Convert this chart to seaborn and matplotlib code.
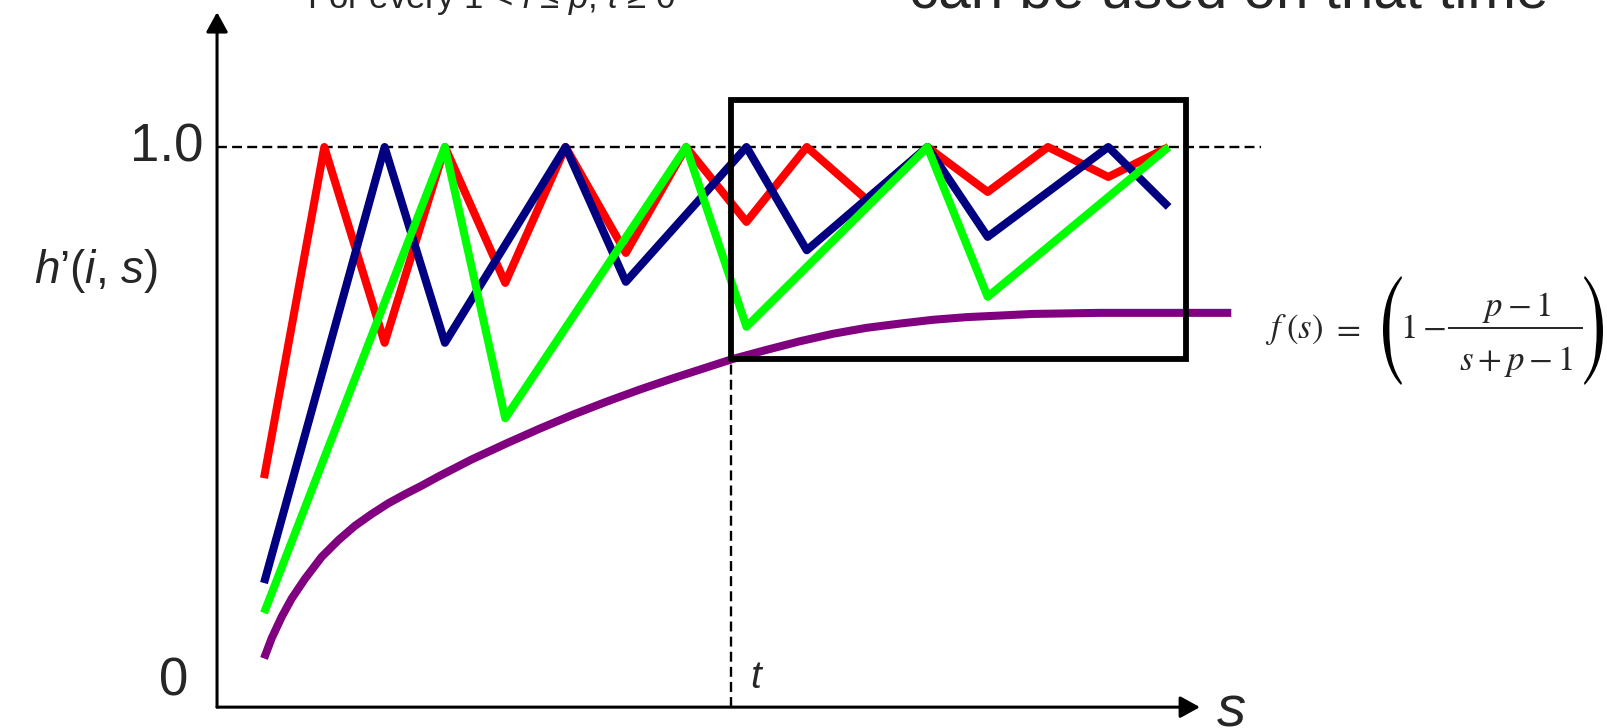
import numpy as np
import pandas as pd
import matplotlib
matplotlib.use("Agg")
import matplotlib.pyplot as plt
import seaborn as sns
from matplotlib.textpath import TextPath
from matplotlib.patches import PathPatch
from matplotlib.font_manager import FontProperties
from matplotlib.transforms import Affine2D

# Normalised heuristic values h'(i, s) for three processors, sampled per step s
red_s = [0, 1, 2, 3, 4, 5, 6, 7, 8, 9, 10, 11, 12, 13, 14, 15]
red_h = [0.381, 1.0, 0.634, 1.0, 0.746, 1.0, 0.802, 1.0, 0.860, 1.0, 0.901, 1.0, 0.916, 1.0, 0.944, 1.0]

blue_s = [0, 2, 3, 5, 6, 8, 9, 11, 12, 14, 15]
blue_h = [0.185, 1.0, 0.634, 1.0, 0.748, 1.0, 0.807, 1.0, 0.832, 1.0, 0.888]

green_s = [0, 3, 4, 7, 8, 11, 12, 15]
green_h = [0.129, 1.0, 0.493, 1.0, 0.664, 1.0, 0.720, 1.0]

# Lower bound curve f(s)
bound_s = [0.0, 0.128, 0.294, 0.459, 0.680, 0.957, 1.232, 1.509, 1.786, 2.061,
           2.338, 2.615, 2.891, 3.168, 3.444, 3.83, 4.02, 4.58, 5.13, 5.68,
           6.24, 6.79, 7.34, 7.78, 8.34, 8.89, 9.44, 9.99, 10.55, 11.09,
           11.65, 12.21, 12.75, 13.31, 13.86, 16.04]
bound_h = [0.044, 0.082, 0.122, 0.156, 0.193, 0.234, 0.265, 0.292, 0.314, 0.334,
           0.351, 0.367, 0.384, 0.400, 0.416, 0.436, 0.446, 0.474, 0.500, 0.524,
           0.547, 0.568, 0.588, 0.604, 0.621, 0.637, 0.651, 0.662, 0.670, 0.677,
           0.682, 0.685, 0.688, 0.689, 0.690, 0.690]

y_ticks = [0.0, 1.0]
y_tick_labels = ["0", "1.0"]
t_mark = 7.745

sns.set_theme(style="white")
plt.rcParams["font.family"] = ["Liberation Sans", "DejaVu Sans"]
plt.rcParams["mathtext.fontset"] = "custom"
plt.rcParams["mathtext.rm"] = "Liberation Sans"
plt.rcParams["mathtext.it"] = "Liberation Sans:italic"

W, H = 1607, 728
fig = plt.figure(figsize=(W / 100, H / 100), dpi=100)
ax = fig.add_axes([0, 0, 1, 1])

df = pd.concat([
    pd.DataFrame({"s": red_s, "h": red_h, "proc": "a"}),
    pd.DataFrame({"s": blue_s, "h": blue_h, "proc": "b"}),
    pd.DataFrame({"s": green_s, "h": green_h, "proc": "c"}),
], ignore_index=True)
bound = pd.DataFrame({"s": bound_s, "h": bound_h})

x_axis_y = -0.047
y_axis_x = -0.779
dash = (0, (4.2, 2.2))

# reference level 1.0 and the marker at time t
ax.plot([y_axis_x, 16.53], [1.0, 1.0], color="black", lw=1.7, linestyle=dash, zorder=1)
ax.plot([t_mark, t_mark], [x_axis_y, 0.604], color="black", lw=1.7, linestyle=dash, zorder=1)
n_guides = len(ax.lines)

sns.lineplot(data=df, x="s", y="h", hue="proc", hue_order=["a", "b", "c"],
             palette={"a": "#ff0000", "b": "#000080", "c": "#00ff00"},
             sort=False, estimator=None, legend=False, ax=ax)
sns.lineplot(data=bound, x="s", y="h", color="#800080", sort=False,
             estimator=None, legend=False, ax=ax)
for ln in ax.lines[n_guides:]:
    ln.set_linewidth(5.8)
    ln.set_solid_capstyle("butt")
    ln.set_zorder(2)

ax.set_xlim(-4.378, 22.27)
ax.set_ylim(-0.086, 1.2748)
ax.axis("off")

# window after t
ax.plot([t_mark, 15.29, 15.29, t_mark, t_mark],
        [0.604, 0.604, 1.088, 1.088, 0.604],
        color="black", lw=4.2, solid_joinstyle="miter", zorder=3)

# axes with arrows
arrow = dict(arrowstyle="-|>,head_length=0.4,head_width=0.22", color="black",
             lw=2.2, shrinkA=0, shrinkB=0, mutation_scale=30)
ax.annotate("", xy=(15.52, x_axis_y), xytext=(y_axis_x, x_axis_y), arrowprops=arrow)
ax.annotate("", xy=(y_axis_x, 1.252), xytext=(y_axis_x, x_axis_y), arrowprops=arrow)

tick_x = {"0": -1.26, "1.0": -1.0}
for v, lab in zip(y_ticks, y_tick_labels):
    ax.text(tick_x[lab], v, lab, ha="right", va="center", fontsize=38)

ax.text(-2.78, 0.768, "$h$’($i$, $s$)", ha="center", va="center", fontsize=33)
ax.text(16.05, -0.056, "s", ha="center", va="center", fontsize=42, fontstyle="italic")
ax.text(8.06, -0.011, "t", ha="left", va="baseline", fontsize=28, fontstyle="italic")

ax.text(0.713, 1.26, "For every 1 < $i$ ≤ $p$, $t$ ≥ 0", ha="left",
        va="baseline", fontsize=25)
ax.text(21.30, 1.26, "can be used on that time", ha="right", va="baseline",
        fontsize=42)

# ---- formula f(s) = (1 - (p-1)/(s+p-1)), laid out in pixel units ----
def px(x, y):
    """pixel position (from top-left) -> data coordinates"""
    return (x - 264) / 60.3, (682 - y) / 535


fsz = 25
mkw = dict(fontsize=fsz, math_fontfamily="stix", va="baseline", ha="left")
ax.text(*px(1265, 338), r"$f$", **mkw)
ax.text(*px(1286, 338), r"$(s)$", **mkw)
ax.text(*px(1331, 338), r"$=$", **mkw)
ax.text(*px(1400, 338), r"$1-$", **mkw)
ax.text(*px(1517, 316), r"$p-1$", **{**mkw, "ha": "center"})
ax.text(*px(1516, 370), r"$s+p-1$", **{**mkw, "ha": "center"})
bx0, by = px(1448, 328)
bx1, _ = px(1583, 328)
ax.plot([bx0, bx1], [by, by], color="black", lw=1.2, solid_capstyle="butt")

stix = FontProperties(family="STIXGeneral")


def tall_glyph(ch, x0, x1, y_top, y_bot):
    tp = TextPath((0, 0), ch, size=100, prop=stix)
    ext = tp.get_extents()
    sx = (x1 - x0) / ext.width
    sy = (y_bot - y_top) / ext.height
    tr = (Affine2D().translate(-ext.x0, -ext.y0).scale(sx, sy)
          .translate(x0, H - y_bot))
    ax.add_patch(PathPatch(tr.transform_path(tp), facecolor="black",
                           edgecolor="none", transform=None, clip_on=False))


tall_glyph("(", 1383, 1402, 276, 385)
tall_glyph(")", 1584, 1603, 276, 385)

fig.savefig("out.png", dpi=100)
